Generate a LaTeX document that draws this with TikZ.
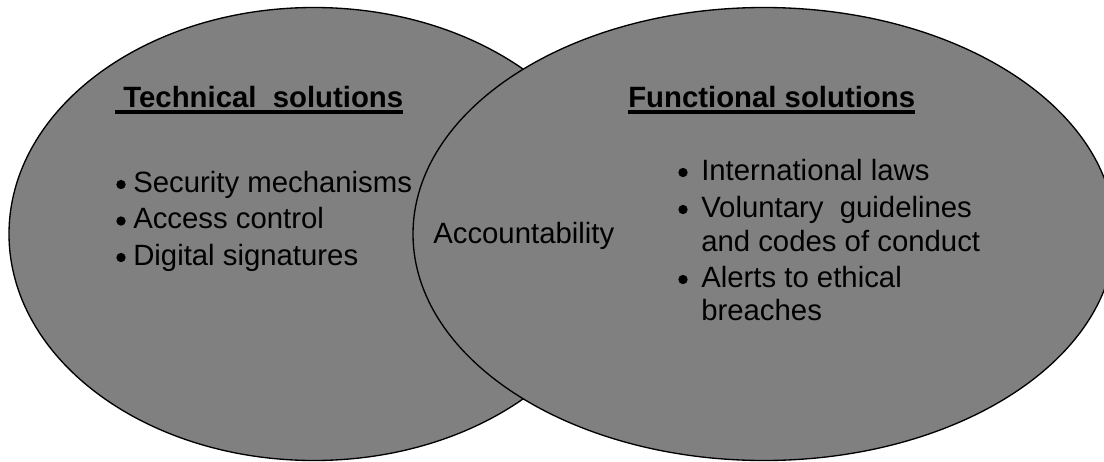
\documentclass[tikz,border=0pt]{standalone}
\usepackage{fontspec}
\setmainfont{Liberation Sans}
\definecolor{venngray}{HTML}{808080}
\tikzset{
  set/.style={fill=venngray,draw=black,line width=1pt},
  txt/.style={anchor=base west,inner sep=0pt,font=\fontsize{22}{27}\selectfont},
  head/.style={txt,font=\fontsize{22}{27}\selectfont\bfseries},
  bul/.style={circle,fill=black,inner sep=0pt,minimum size=7pt}
}
\begin{document}
\begin{tikzpicture}[x=0.75pt,y=-0.75pt]
\clip (0,0) rectangle (1104,461);
% the two sets, the right one laid over the left
\filldraw[set] (314,234) ellipse [x radius=305, y radius=226.5];
\filldraw[set] (764,234) ellipse [x radius=351, y radius=226.5];
% headings
\node[head] (techhead) at (115,107) {\ Technical\ \ solutions};
\node[head] (funchead) at (628,107) {Functional solutions};
\draw[line width=3pt] ([yshift=-4pt]techhead.base west) -- ([yshift=-4pt]techhead.base east);
\draw[line width=3pt] ([yshift=-4pt]funchead.base west) -- ([yshift=-4pt]funchead.base east);
% left list
\foreach \t [count=\i] in {Security mechanisms, Access control, Digital signatures}{
  \node[txt] (tech\i) at (133,155.5+36.5*\i) {\t};
  \node[bul] (techdot\i) at (121,148+36.5*\i) {};
}
% overlap
\node[txt] (acc) at (433,243) {Accountability};
% right list
\node[txt] (func1) at (701,180) {International laws};
\node[txt] (func2) at (701,217) {Voluntary\ \ guidelines};
\node[txt] (func2b) at (701,251) {and codes of conduct};
\node[txt] (func3) at (701,287) {Alerts to ethical};
\node[txt] (func3b) at (701,320) {breaches};
\foreach \n in {func1,func2,func3}
  \node[bul] at ([shift={(-18,-7.5)}]\n.base west) {};
\end{tikzpicture}
\end{document}
